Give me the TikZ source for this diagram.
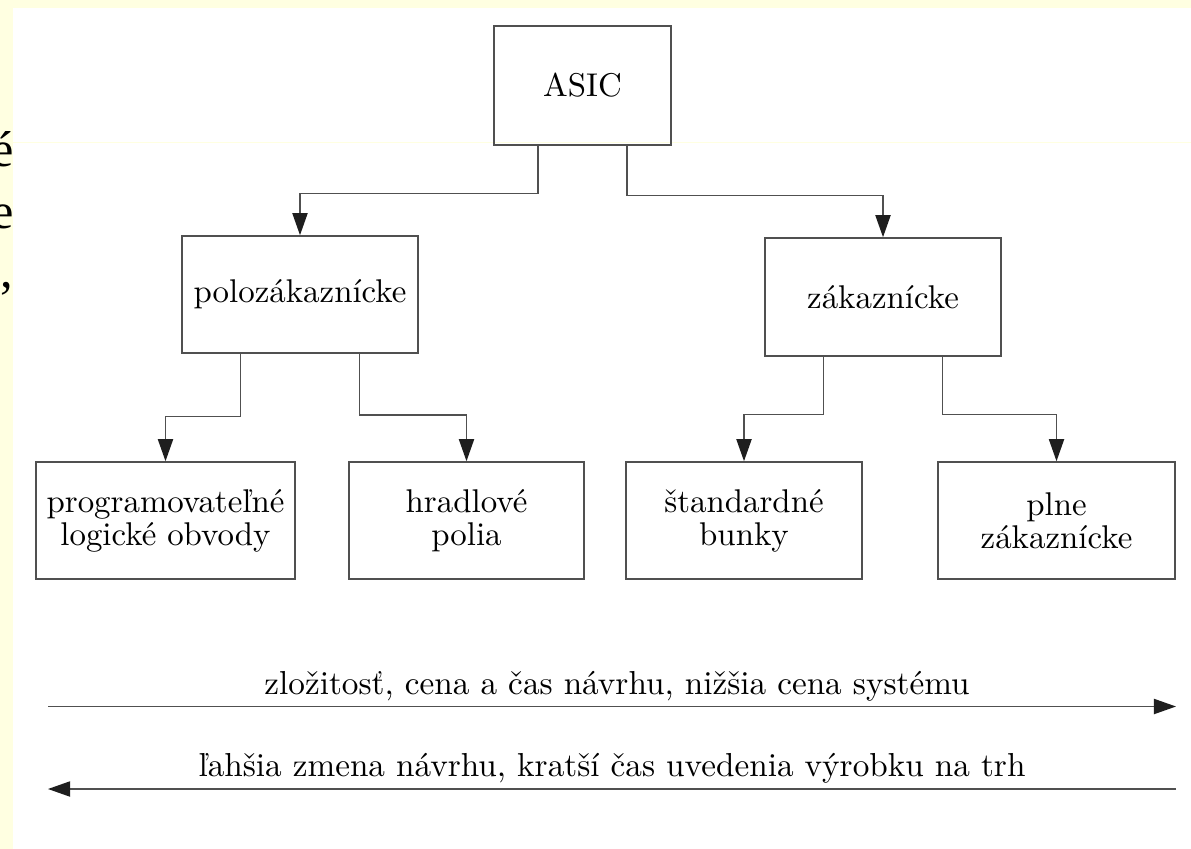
\documentclass[tikz,border=0pt]{standalone}
\usepackage{fontspec}
\usetikzlibrary{arrows.meta,calc}
\newfontfamily\sidefont{Liberation Serif}
\definecolor{bgyellow}{RGB}{255,255,225}
\definecolor{linegray}{RGB}{80,80,80}
\definecolor{headgray}{RGB}{30,30,30}
\begin{document}
\begin{tikzpicture}[x=0.304pt,y=-0.304pt,
  box/.style={draw=linegray, line width=0.45pt, align=center, inner sep=0pt,
              font=\fontsize{10}{10}\selectfont},
  conn/.style={draw=linegray, line width=0.45pt},
  arr/.style={conn, -{Triangle[length=6.7pt,width=4.6pt,color=headgray]}},
  lbl/.style={font=\fontsize{10.1}{10}\selectfont, inner sep=0pt},
  side/.style={font=\sidefont\fontsize{15.3}{15.3}\selectfont, inner sep=0pt, anchor=base east}]
% background
\useasboundingbox (0,0) rectangle (1191,849);
\fill[bgyellow] (0,0) rectangle (1191,849);
\begin{scope}
  \clip (0,0) rectangle (13,849);
  \node[side] (s1) at (14,167) {é};
  \node[side] (s2) at (14,229) {e};
  \node[side] (s3) at (14,288) {,};
\end{scope}
\fill[white] (13,8) rectangle (1191,849);
\draw[bgyellow, line width=0.3pt] (13,142.5) -- (1191,142.5);

% boxes
\node[box, minimum width=53.8pt, minimum height=36.2pt] (asic) at (582.5,85.5) {ASIC};
\node[box, minimum width=71.7pt, minimum height=35.6pt] (polo) at (300,294.5) {polozákaznícke};
\node[box, minimum width=71.7pt, minimum height=35.9pt] (zak) at (883,297) {zákaznícke};
\node[box, minimum width=78.7pt, minimum height=35.6pt] (b1) at (165.5,520.5) {programovateľné\\logické obvody};
\node[box, minimum width=71.4pt, minimum height=35.6pt] (b2) at (466.5,520.5) {hradlové\\polia};
\node[box, minimum width=71.7pt, minimum height=35.6pt] (b3) at (744,520.5) {štandardné\\bunky};
\node[box, minimum width=72.0pt, minimum height=35.6pt] (b4) at (1056.5,520.5) {plne\\zákaznícke};

% connectors
\coordinate (a1) at ($(asic.south west)!.25!(asic.south east)$);
\coordinate (a2) at ($(asic.south west)!.75!(asic.south east)$);
\coordinate (p1) at ($(polo.south west)!.25!(polo.south east)$);
\coordinate (p2) at ($(polo.south west)!.75!(polo.south east)$);
\coordinate (z1) at ($(zak.south west)!.25!(zak.south east)$);
\coordinate (z2) at ($(zak.south west)!.75!(zak.south east)$);
\draw[arr] (a1) -- (a1 |- 0,193.5) -| (polo.north);
\draw[arr] (a2) -- (a2 |- 0,195.5) -| (zak.north);
\draw[arr] (p1) -- (p1 |- 0,416.5) -| (b1.north);
\draw[arr] (p2) -- (p2 |- 0,415) -| (b2.north);
\draw[arr] (z1) -- (z1 |- 0,414.7) -| (b3.north);
\draw[arr] (z2) -- (z2 |- 0,414.7) -| (b4.north);

% bottom arrows
\coordinate (l1) at (48,706.5);
\coordinate (r1) at (1176,706.5);
\coordinate (l2) at (48,789);
\coordinate (r2) at (1176,789);
\draw[arr] (l1) -- (r1);
\draw[arr] (r2) -- (l2);
\node[lbl] (t1) at (617,686) {zložitosť, cena a čas návrhu, nižšia cena systému};
\node[lbl] (t2) at (612,768) {ľahšia zmena návrhu, kratší čas uvedenia výrobku na trh};
\end{tikzpicture}
\end{document}
